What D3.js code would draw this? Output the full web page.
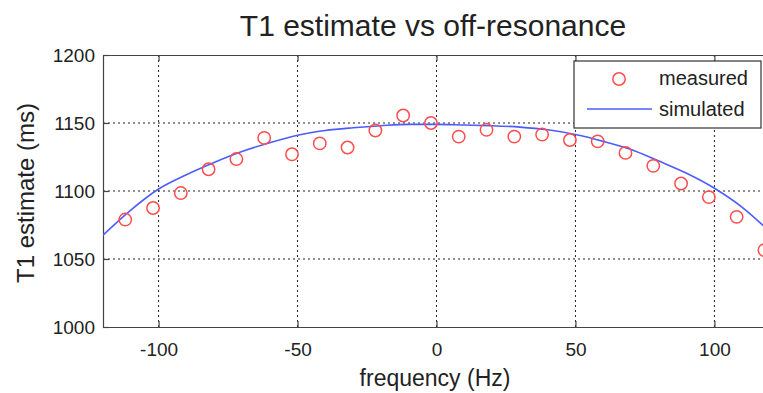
<!DOCTYPE html>
<html>
<head>
<meta charset="utf-8">
<script src="https://cdn.jsdelivr.net/npm/d3@7"></script>
<style>
  body { margin: 0; background: #fff; }
  svg { display: block; font-family: "Liberation Sans", Arial, sans-serif; }
</style>
</head>
<body>
<div id="chart"></div>
<script>
// measured points (Hz, ms)
const measuredFreq = [-112, -102, -92, -82, -72, -62, -52, -42, -32, -22, -12, -2,
  8, 18, 28, 38, 48, 58, 68, 78, 88, 98, 108, 118];
const measuredT1 = [1079, 1087.5, 1098.5, 1116, 1123.5, 1139, 1127, 1135, 1132, 1144.5, 1155.5, 1150,
  1140, 1145, 1140, 1141.5, 1137.5, 1136.5, 1128, 1118.5, 1105.5, 1095.5, 1081, 1056.5];

// simulated curve
const simFreq = [-120, -110, -100, -90, -80, -70, -60, -50, -40, -30, -20, -10, 0,
  10, 20, 30, 40, 50, 60, 70, 80, 90, 100, 110, 120];
const simT1 = [1067.5, 1086, 1101.5, 1112, 1121, 1129, 1135.5, 1141, 1144.5, 1146.5, 1148, 1149, 1149,
  1148.5, 1148, 1147, 1145, 1141.5, 1136.5, 1130.5, 1122, 1113, 1102, 1088, 1070];

const xTicks = [-100, -50, 0, 50, 100];
const yTicks = [1000, 1050, 1100, 1150, 1200];

const W = 763, H = 393;
const margin = { left: 103, top: 55, right: -7, bottom: 66 };
const width = W - margin.left - margin.right;
const height = H - margin.top - margin.bottom;
const fmt = d => String(d).replace('\u2212', '-');

const svg = d3.select('#chart').append('svg')
  .attr('width', W)
  .attr('height', H);

svg.append('rect').attr('width', W).attr('height', H).attr('fill', '#fff');

const g = svg.append('g').attr('transform', `translate(${margin.left},${margin.top})`);

const x = d3.scaleLinear().domain([-120, 120]).range([0, width]);
const y = d3.scaleLinear().domain([1000, 1200]).range([height, 0]);

// Grid
g.append('g')
  .selectAll('line')
  .data(xTicks)
  .join('line')
  .attr('x1', d => x(d)).attr('x2', d => x(d))
  .attr('y1', 0).attr('y2', height)
  .attr('stroke', '#222').attr('stroke-width', 1).attr('stroke-dasharray', '2,3');

g.append('g')
  .selectAll('line')
  .data(yTicks.filter(v => v > 1000 && v < 1200))
  .join('line')
  .attr('x1', 0).attr('x2', width)
  .attr('y1', d => y(d)).attr('y2', d => y(d))
  .attr('stroke', '#222').attr('stroke-width', 1).attr('stroke-dasharray', '2,3');

// Axes (ticks inward, MATLAB style)
const xAxis = g.append('g')
  .attr('transform', `translate(0,${height})`)
  .call(d3.axisBottom(x).tickValues(xTicks).tickFormat(fmt).tickSizeInner(-6).tickSizeOuter(0).tickPadding(16));
const yAxis = g.append('g')
  .call(d3.axisLeft(y).tickValues(yTicks).tickFormat(fmt).tickSizeInner(-6).tickSizeOuter(0).tickPadding(8));

const xAxisTop = g.append('g')
  .call(d3.axisTop(x).tickValues(xTicks).tickSizeInner(-6).tickSizeOuter(0).tickFormat(''));

[xAxis, yAxis, xAxisTop].forEach(a => {
  a.selectAll('.domain, .tick line').attr('stroke', '#444').attr('stroke-width', 1.2);
  a.selectAll('text').attr('fill', '#222').attr('font-size', '19px')
    .attr('font-family', '"Liberation Sans", Arial, sans-serif');
});

// Data
svg.append('clipPath').attr('id', 'plotclip')
  .append('rect').attr('x', 0).attr('y', 0).attr('width', width).attr('height', height);

const plot = g.append('g').attr('clip-path', 'url(#plotclip)');

const simData = simFreq.map((f, i) => [f, simT1[i]]);
const line = d3.line().x(d => x(d[0])).y(d => y(d[1])).curve(d3.curveMonotoneX);

plot.append('path')
  .datum(simData)
  .attr('d', line)
  .attr('fill', 'none')
  .attr('stroke', '#4d5cff')
  .attr('stroke-width', 1.6);

plot.selectAll('circle.measured')
  .data(measuredFreq.map((f, i) => [f, measuredT1[i]]))
  .join('circle')
  .attr('class', 'measured')
  .attr('cx', d => x(d[0]))
  .attr('cy', d => y(d[1]))
  .attr('r', 6.2)
  .attr('fill', 'none')
  .attr('stroke', '#ff4d4d')
  .attr('stroke-width', 1.5);

// Legend
const legend = svg.append('g').attr('transform', 'translate(574,61)');
legend.append('rect')
  .attr('width', 187).attr('height', 67)
  .attr('fill', '#fff').attr('stroke', '#333').attr('stroke-width', 1.2);
legend.append('circle')
  .attr('cx', 45).attr('cy', 18).attr('r', 6.2)
  .attr('fill', 'none').attr('stroke', '#ff4d4d').attr('stroke-width', 1.5);
legend.append('line')
  .attr('x1', 13).attr('x2', 78).attr('y1', 48).attr('y2', 48)
  .attr('stroke', '#4d5cff').attr('stroke-width', 1.6);
legend.append('text').attr('x', 85).attr('y', 24).attr('font-size', '20px').attr('fill', '#222').text('measured');
legend.append('text').attr('x', 85).attr('y', 55).attr('font-size', '20px').attr('fill', '#222').text('simulated');

// Titles
svg.append('text')
  .attr('x', 433).attr('y', 36)
  .attr('text-anchor', 'middle').attr('font-size', '30px').attr('fill', '#222')
  .text('T1 estimate vs off-resonance');

svg.append('text')
  .attr('x', 435).attr('y', 386)
  .attr('text-anchor', 'middle').attr('font-size', '23px').attr('fill', '#222')
  .text('frequency (Hz)');

svg.append('text')
  .attr('transform', 'rotate(-90)')
  .attr('x', -193).attr('y', 34)
  .attr('text-anchor', 'middle').attr('font-size', '24px').attr('fill', '#222')
  .text('T1 estimate (ms)');
</script>
</body>
</html>
